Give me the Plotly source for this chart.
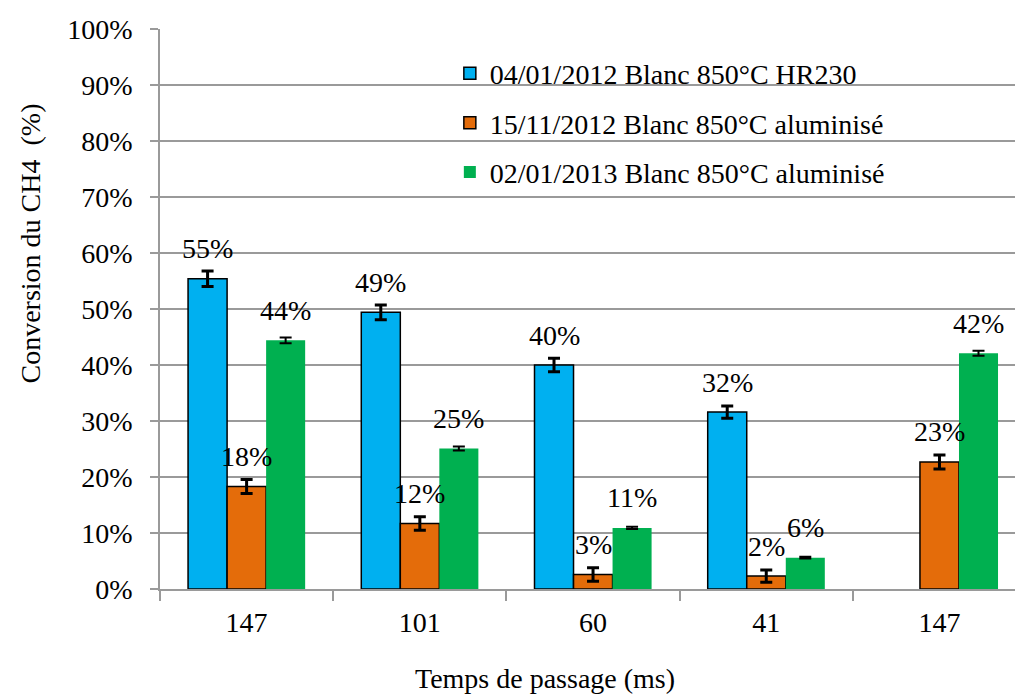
import plotly.graph_objects as go

# Residence times (ms) for each test group
categories = ["147", "101", "60", "41", "147"]

series_names = [
    "04/01/2012 Blanc 850°C HR230",
    "15/11/2012 Blanc 850°C aluminisé",
    "02/01/2013 Blanc 850°C aluminisé",
]

# CH4 conversion (fraction) and error half-widths per series
hr230_values = [0.554, 0.494, 0.400, 0.316, None]
hr230_errors = [0.014, 0.013, 0.012, 0.011, None]

alu_2012_values = [0.183, 0.117, 0.026, 0.023, 0.227]
alu_2012_errors = [0.0125, 0.012, 0.012, 0.011, 0.0125]

alu_2013_values = [0.444, 0.251, 0.109, 0.056, 0.421]
alu_2013_errors = [0.005, 0.0036, 0.002, 0.0015, 0.0045]

y_ticks = [i / 10 for i in range(11)]

FONT = "Liberation Serif"
FS = 28
GRID = "#9a9a9a"

colors = ["#00B0F0", "#E46C0A", "#00B050"]
outline = [1.5, 1.5, 0]
err_thick = [3, 3, 2]
values = [hr230_values, alu_2012_values, alu_2013_values]
errors = [hr230_errors, alu_2012_errors, alu_2013_errors]

x_pos = list(range(len(categories)))
bargap = 0.324
bar_w = (1 - bargap) / 3

fig = go.Figure()
for k in range(3):
    fig.add_trace(go.Bar(
        name=series_names[k],
        x=x_pos,
        y=values[k],
        legendgroup=f"g{k}",
        marker=dict(color=colors[k], line=dict(color="black", width=outline[k])),
        error_y=dict(type="data", array=errors[k], visible=True,
                     color="black", thickness=err_thick[k], width=6),
    ))

# Percentage labels above each bar
annotations = []
for k in range(3):
    offset = (k - 1) * bar_w
    for i, v in enumerate(values[k]):
        if v is None:
            continue
        annotations.append(dict(
            x=i + offset, y=v, xref="x", yref="y",
            text=f"{v:.0%}", showarrow=False,
            yanchor="middle", yshift=30,
            font=dict(family=FONT, size=FS, color="black"),
        ))

annotations.append(dict(
    text="Conversion du CH4 \u00a0(%)", textangle=-90, showarrow=False,
    xref="paper", yref="paper", x=-0.152, y=0.617,
    xanchor="center", yanchor="middle",
    font=dict(family=FONT, size=FS, color="black"),
))
annotations.append(dict(
    text="Temps de passage (ms)", showarrow=False,
    xref="paper", yref="paper", x=0.450, y=-0.160,
    xanchor="center", yanchor="middle",
    font=dict(family=FONT, size=FS, color="black"),
))

fig.update_layout(
    width=1015, height=697,
    margin=dict(l=160, r=0, t=29, b=108),
    paper_bgcolor="white", plot_bgcolor="white",
    barmode="group", bargap=bargap, bargroupgap=0,
    font=dict(family=FONT, size=FS, color="black"),
    showlegend=True,
    legend=dict(
        x=0.339, y=0.965, xanchor="left", yanchor="top",
        bgcolor="rgba(0,0,0,0)", tracegroupgap=10,
        font=dict(family=FONT, size=FS, color="black"),
        traceorder="grouped",
    ),
    annotations=annotations,
)

fig.update_xaxes(
    range=[-0.5, 4.436],
    tickmode="array", tickvals=x_pos, ticktext=categories,
    ticks="", ticklabelstandoff=8,
    showline=True, linecolor=GRID, linewidth=1.5,
    showgrid=False, zeroline=False,
    minor=dict(ticks="outside", ticklen=10, tickcolor=GRID, tickwidth=1.5,
               tick0=-0.5, dtick=1, showgrid=False),
)

fig.update_yaxes(
    range=[0, 1],
    tickmode="array", tickvals=y_ticks, tickformat=".0%",
    ticks="outside", ticklen=8, tickcolor=GRID, tickwidth=1.5,
    ticklabelstandoff=12,
    showline=True, linecolor=GRID, linewidth=1.5,
    showgrid=True, gridcolor=GRID, gridwidth=1.5,
    zeroline=False,
)

fig.write_html("out.html")
